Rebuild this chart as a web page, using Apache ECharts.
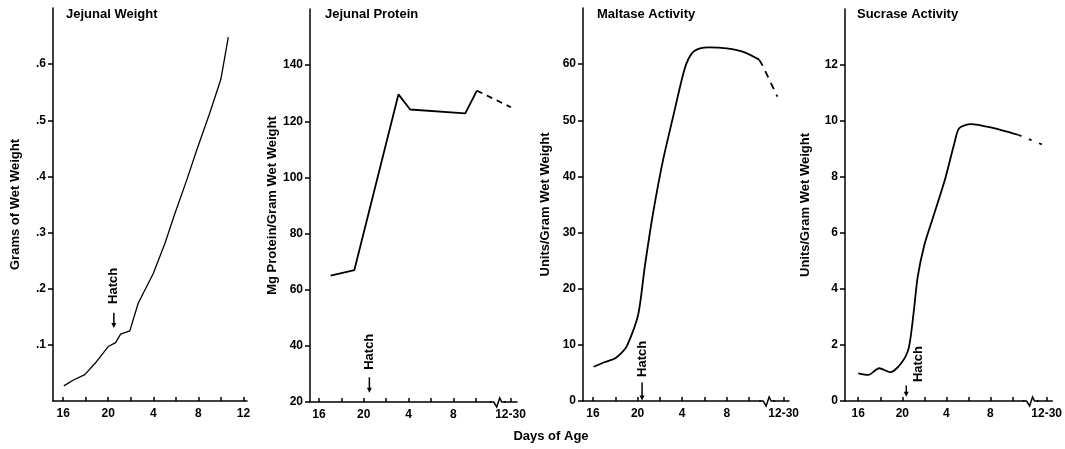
<!DOCTYPE html>
<html lang="en">
<head>
    <meta charset="UTF-8">
    <title>Jejunal development</title>
    <script src="https://cdn.jsdelivr.net/npm/echarts@6/dist/echarts.min.js"></script>
    <style>
        html, body, #chart {
            width: 1065px;
            height: 449px;
            padding: 0;
            margin: 0;
            background: #fff;
        }
    </style>
</head>
<body>
<div id="chart"></div>
<script>
    // x positions are in "tick steps": 0 = day 16 of incubation, 1 step = 2 days
    var tickSteps = [0, 1, 2, 3, 4, 5, 6, 7, 8];
    var tickStepsBreak = [0, 1, 2, 3, 4, 5, 6, 7, 8.55];
    var labelSteps1 = [0, 2, 4, 6, 8];
    var labelSteps = [0, 2, 4, 6, 8.55];
    var dayLabels1 = ["16", "20", "4", "8", "12"];
    var dayLabels = ["16", "20", "4", "8", "12-30"];

    // Jejunal Weight (grams)
    var weightX = [0.03, 0.44, 0.96, 1.48, 2.0, 2.33, 2.55, 2.96, 3.33, 4.0, 4.52, 4.96, 5.48, 5.93, 6.5, 7.0, 7.33];
    var weightY = [0.027, 0.037, 0.047, 0.070, 0.097, 0.104, 0.119, 0.125, 0.174, 0.227, 0.281, 0.334, 0.393, 0.447, 0.512, 0.573, 0.648];
    var weightTicks = [0.1, 0.2, 0.3, 0.4, 0.5, 0.6];

    // Jejunal Protein (mg / g wet weight)
    var proteinX = [0.52, 1.58, 3.55, 4.07, 6.53, 7.05];
    var proteinY = [65, 67, 129.6, 124.2, 122.8, 130.9];
    var proteinDashX = [7.05, 8.57];
    var proteinDashY = [130.9, 125];
    var proteinTicks = [20, 40, 60, 80, 100, 120, 140];

    // Maltase Activity (units / g wet weight)
    var maltaseX = [0.03, 0.5, 1.0, 1.49, 2.02, 2.32, 2.69, 3.14, 3.59, 4.11, 4.45, 4.8, 5.2, 6.0, 6.8, 7.45];
    var maltaseY = [6.1, 6.9, 7.6, 9.6, 15.3, 23.9, 33.4, 42.9, 50.6, 59.2, 62, 62.8, 63, 62.8, 62.1, 60.8];
    var maltaseDashX = [7.45, 7.6, 8.27];
    var maltaseDashY = [60.8, 59.8, 54.2];
    var maltaseTicks = [0, 10, 20, 30, 40, 50, 60];

    // Sucrase Activity (units / g wet weight)
    var sucraseX = [0, 0.45, 0.95, 1.46, 1.95, 2.29, 2.51, 2.7, 3.0, 3.38, 3.95, 4.36, 4.58, 5.11, 6.01, 7.28];
    var sucraseY = [0.99, 0.93, 1.17, 1.03, 1.35, 1.88, 3.13, 4.44, 5.57, 6.52, 7.95, 9.2, 9.74, 9.89, 9.77, 9.5];
    var sucraseDotX = [7.28, 8.41];
    var sucraseDotY = [9.5, 9.14];
    var sucraseTicks = [0, 2, 4, 6, 8, 10, 12];

    function pairs(xs, ys) {
        return xs.map(function (x, i) { return [x, ys[i]]; });
    }

    var FONT = "'Liberation Sans', Arial, sans-serif";

    // layout of the four panels
    var panels = [
        {title: "Jejunal Weight", titleLeft: 66, name: "Grams of Wet Weight", nameGap: 31,
            grid: {left: 53, top: 8, width: 194, height: 393}, xMin: -0.45, xMax: 8.16, yMin: 0, yMax: 0.7,
            ticks: tickSteps, labels: labelSteps1, dayText: dayLabels1, yTicks: weightTicks,
            yFmt: function (v) { return String(v).replace(/^0/, ""); },
            hatch: [2.25, 0.157, 0.130, 2.25, 0.205], brk: null},
        {title: "Jejunal Protein", titleLeft: 325, name: "Mg Protein/Gram Wet Weight", nameGap: 27,
            grid: {left: 310, top: 9, width: 207, height: 393}, xMin: -0.4, xMax: 8.84, yMin: 20, yMax: 160,
            ticks: tickStepsBreak, labels: labelSteps, dayText: dayLabels, yTicks: proteinTicks,
            yFmt: String, hatch: [2.25, 28.8, 23.3, 2.25, 37.9], brk: 7.98},
        {title: "Maltase Activity", titleLeft: 597, name: "Units/Gram Wet Weight", nameGap: 31,
            grid: {left: 583, top: 8, width: 206, height: 393}, xMin: -0.45, xMax: 8.79, yMin: 0, yMax: 70,
            ticks: tickStepsBreak, labels: labelSteps, dayText: dayLabels, yTicks: maltaseTicks,
            yFmt: String, hatch: [2.2, 3.3, 0.1, 2.2, 7.5], brk: 7.81},
        {title: "Sucrase Activity", titleLeft: 857, name: "Units/Gram Wet Weight", nameGap: 33,
            grid: {left: 845, top: 9, width: 209, height: 392}, xMin: -0.6, xMax: 8.81, yMin: 0, yMax: 14,
            ticks: tickStepsBreak, labels: labelSteps, dayText: dayLabels, yTicks: sucraseTicks,
            yFmt: String, hatch: [2.18, 0.55, 0.15, 2.71, 1.32], brk: 7.82}
    ];

    var lineSets = [
        [{data: pairs(weightX, weightY), width: 1.3}],
        [{data: pairs(proteinX, proteinY), width: 1.8},
            {data: pairs(proteinDashX, proteinDashY), width: 1.8, type: [6, 5]}],
        [{data: pairs(maltaseX, maltaseY), width: 1.8, smooth: 0.25},
            {data: pairs(maltaseDashX, maltaseDashY), width: 1.8, type: [7, 6]}],
        [{data: pairs(sucraseX, sucraseY), width: 1.8, smooth: 0.25},
            {data: pairs(sucraseDotX, sucraseDotY), width: 1.8, type: [3, 8]}]
    ];

    function hatchRender(params, api) {
        var a = api.coord([api.value(0), api.value(1)]);
        var b = api.coord([api.value(0), api.value(2)]);
        var t = api.coord([api.value(3), api.value(4)]);
        return {
            type: "group",
            children: [
                {type: "line", shape: {x1: a[0], y1: a[1], x2: b[0], y2: b[1] - 4},
                    style: {stroke: "#000", lineWidth: 1.5}},
                {type: "polygon", shape: {points: [[b[0] - 2.5, b[1] - 5], [b[0] + 2.5, b[1] - 5], [b[0], b[1]]]},
                    style: {fill: "#000"}},
                {type: "text", x: t[0], y: t[1], rotation: Math.PI / 2,
                    style: {text: "Hatch", align: "center", verticalAlign: "middle",
                        font: "bold 13px " + FONT, fill: "#000"}}
            ]
        };
    }

    function breakRender(params, api) {
        var p = api.coord([api.value(0), api.value(1)]);
        return {
            type: "group",
            children: [
                {type: "rect", shape: {x: p[0] - 6, y: p[1] - 3, width: 12, height: 6}, style: {fill: "#fff"}},
                {type: "polyline", shape: {points: [[p[0] - 8, p[1]], [p[0] - 4, p[1]], [p[0] - 1, p[1] + 5],
                        [p[0] + 2, p[1] - 4], [p[0] + 4, p[1]], [p[0] + 8, p[1]]]},
                    style: {stroke: "#000", lineWidth: 1.5, fill: null}}
            ]
        };
    }

    var grids = [], xAxes = [], yAxes = [], titles = [], series = [];

    panels.forEach(function (p, i) {
        grids.push(p.grid);
        titles.push({
            text: p.title, left: p.titleLeft, top: 8, padding: 0,
            textStyle: {fontFamily: FONT, fontWeight: "bold", fontSize: 13, color: "#000"}
        });
        xAxes.push({
            type: "value", gridIndex: i, min: p.xMin, max: p.xMax,
            axisLine: {onZero: false, lineStyle: {color: "#000", width: 1.5}},
            axisTick: {customValues: p.ticks, inside: true, length: 4, lineStyle: {color: "#000", width: 1.5}},
            axisLabel: {
                customValues: p.labels, margin: 7, color: "#000", fontFamily: FONT, fontWeight: "bold", fontSize: 12,
                formatter: function (v) {
                    for (var k = 0; k < p.labels.length; k++) {
                        if (Math.abs(p.labels[k] - v) < 1e-6) return p.dayText[k];
                    }
                    return "";
                }
            },
            splitLine: {show: false}
        });
        yAxes.push({
            type: "value", gridIndex: i, min: p.yMin, max: p.yMax,
            name: p.name, nameLocation: "middle", nameGap: p.nameGap,
            nameTextStyle: {fontFamily: FONT, fontWeight: "bold", fontSize: 13, color: "#000"},
            axisLine: {onZero: false, lineStyle: {color: "#000", width: 1.5}},
            axisTick: {customValues: p.yTicks, length: 5, lineStyle: {color: "#000", width: 1.5}},
            axisLabel: {
                customValues: p.yTicks, margin: 7, color: "#000", fontFamily: FONT, fontWeight: "bold", fontSize: 12,
                formatter: p.yFmt
            },
            splitLine: {show: false}
        });

        lineSets[i].forEach(function (s) {
            series.push({
                type: "line", xAxisIndex: i, yAxisIndex: i, data: s.data,
                showSymbol: false, smooth: s.smooth || false, silent: true,
                lineStyle: {color: "#000", width: s.width, type: s.type || "solid"}
            });
        });

        series.push({
            type: "custom", xAxisIndex: i, yAxisIndex: i, silent: true, z: 5,
            renderItem: hatchRender, data: [p.hatch]
        });
        if (p.brk !== null) {
            series.push({
                type: "custom", xAxisIndex: i, yAxisIndex: i, silent: true, z: 5,
                renderItem: breakRender, data: [[p.brk, p.yMin]]
            });
        }
    });

    var myChart = echarts.init(document.getElementById("chart"));
    myChart.setOption({
        animation: false,
        backgroundColor: "#fff",
        title: titles,
        grid: grids,
        xAxis: xAxes,
        yAxis: yAxes,
        series: series,
        graphic: [{
            type: "text", x: 551, y: 436,
            style: {text: "Days of Age", align: "center", verticalAlign: "middle",
                font: "bold 13px " + FONT, fill: "#000"}
        }]
    });
</script>
</body>
</html>
